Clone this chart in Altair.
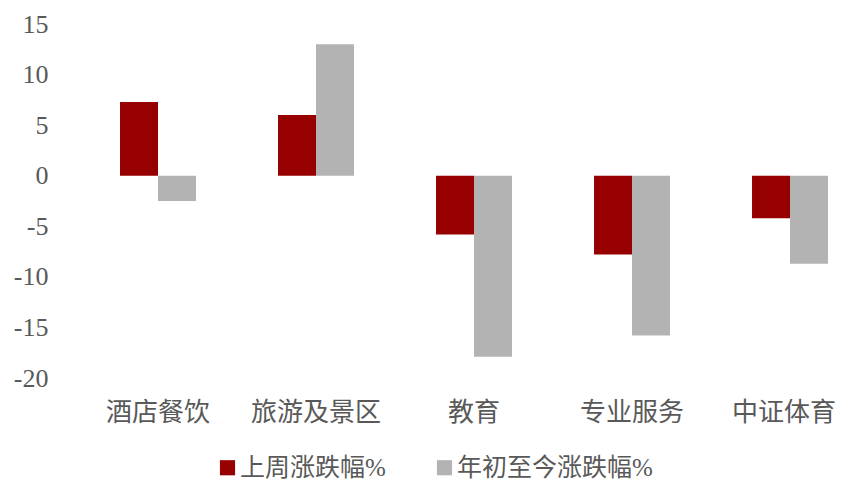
import altair as alt
import pandas as pd

categories = ["酒店餐饮", "旅游及景区", "教育", "专业服务", "中证体育"]
series_names = ["上周涨跌幅%", "年初至今涨跌幅%"]
weekly = [7.3, 6.0, -5.8, -7.8, -4.2]
ytd = [-2.5, 13.0, -17.9, -15.8, -8.7]
y_ticks = [-20, -15, -10, -5, 0, 5, 10, 15]
colors = ["#960000", "#B3B3B3"]

rows = []
for c, w, t in zip(categories, weekly, ytd):
    rows.append({"cat": c, "series": series_names[0], "val": w})
    rows.append({"cat": c, "series": series_names[1], "val": t})
df = pd.DataFrame(rows)

font = "Liberation Serif, Noto Sans CJK SC"

chart = alt.Chart(df).mark_bar().encode(
    x=alt.X("cat:N", sort=categories, title=None,
            scale=alt.Scale(paddingInner=0.519, paddingOuter=0.2215, align=0.886),
            axis=alt.Axis(labelAngle=0, domain=False, ticks=False, labelFontSize=26,
                          labelFont=font, labelColor="#595959", labelPadding=21,
                          labelBaseline="top", labelLimit=0,
                          labelOffset={"condition": {"test": "datum.value == '中证体育'", "value": -6},
                                       "value": 0})),
    xOffset=alt.XOffset("series:N", sort=series_names),
    y=alt.Y("val:Q", title=None,
            scale=alt.Scale(domain=[-20, 15], nice=False, zero=False),
            axis=alt.Axis(values=y_ticks, grid=False, domain=False, ticks=False,
                          labelFontSize=26, labelFont=font, labelColor="#595959",
                          labelPadding=10, labelExpr="'' + datum.value")),
    color=alt.Color("series:N", sort=series_names,
                    scale=alt.Scale(domain=series_names, range=colors),
                    legend=alt.Legend(title=None, orient="none", direction="horizontal",
                                      legendX=157, legendY=431,
                                      symbolType="square",
                                      symbolSize=230, symbolStrokeWidth=0,
                                      labelFont=font, labelFontSize=25,
                                      labelColor="#595959", labelOffset=0,
                                      labelLimit=0, columnPadding=46)),
).properties(
    width=778, height=354,
    padding={"left": 50, "top": 16, "right": 0, "bottom": 104},
    autosize=alt.AutoSizeParams(type="none"),
).configure_view(stroke=None)

chart.save("out.html", embed_options={"renderer": "svg", "actions": False})
